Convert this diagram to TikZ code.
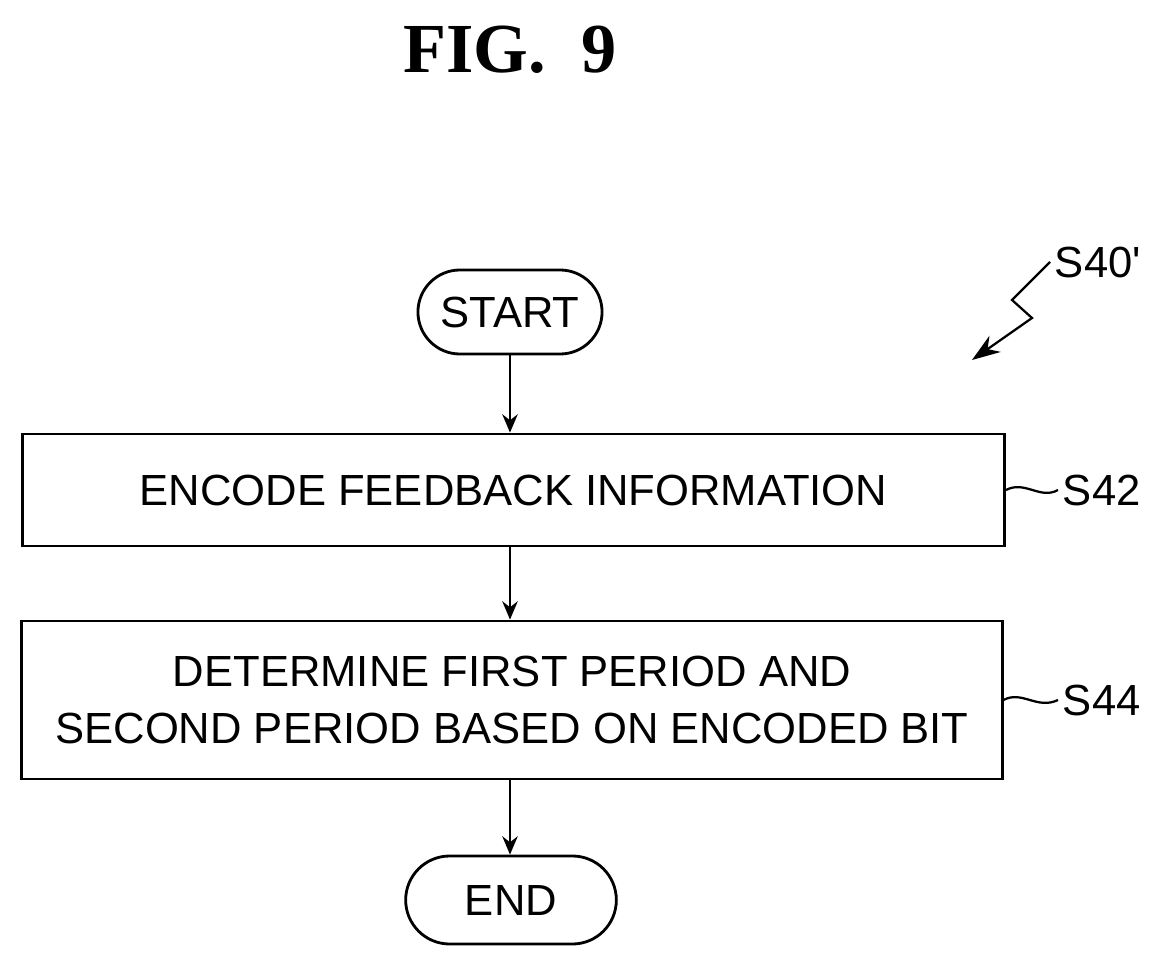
\documentclass[tikz,border=0pt]{standalone}
\usepackage{fontspec}
\setmainfont{Liberation Sans}
\newfontfamily\titlefont{Liberation Serif}
\usetikzlibrary{shapes.misc,arrows.meta}

\tikzset{
  procbox/.style={draw, line width=2pt, font=\fontsize{31}{40}\selectfont, align=center},
  term/.style={draw, line width=2pt, rounded rectangle, font=\fontsize{31}{40}\selectfont},
  flow/.style={-{Stealth[length=13pt,width=11pt]}, line width=1.6pt},
  tag/.style={font=\fontsize{31}{40}\selectfont, anchor=west},
}

\begin{document}
\begin{tikzpicture}[x=0.025cm, y=-0.025cm]
    \useasboundingbox (0,0) rectangle (1169,970);

    \node[font=\titlefont\bfseries\fontsize{50}{60}\selectfont] (title) at (510,50) {FIG.~~9};

    % flow steps
    \node[term, minimum width=4.4cm, minimum height=2.1cm, inner xsep=14pt] (start) at (510,312) {START};
    \node[procbox, minimum width=24.55cm, minimum height=2.8cm] (s42) at (513.5,490) {ENCODE FEEDBACK INFORMATION};
    \node[procbox, minimum width=24.5cm, minimum height=3.95cm] (s44) at (512,700)
        {DETERMINE FIRST PERIOD AND\\SECOND PERIOD BASED ON ENCODED BIT};
    \node[term, minimum width=5.5cm, minimum height=2.2cm] (end) at (511,900) {END};

    \draw[flow] (start.south) -- (start.south |- s42.north);
    \draw[flow] (start.south |- s42.south) -- (start.south |- s44.north);
    \draw[flow] (start.south |- s44.south) -- (start.south |- end.north);

    % reference labels
    \node[tag] (l42) at (1058,490) {S42};
    \node[tag] (l44) at (1058,700) {S44};
    \node[tag] (l40) at (1050,262) {S40\textquotesingle};
    \draw[line width=1.6pt] (s42.east) .. controls (1025,480) and (1040,500) .. (l42.west);
    \draw[line width=1.6pt] (s44.east) .. controls (1022,690) and (1037,710) .. (l44.west);
    \coordinate (tip) at (972,360);
    \draw[line width=1.6pt, -{Stealth[length=20pt,width=14pt]}]
        (l40.west) -- (1012,300) -- (1032,318) -- (tip);
\end{tikzpicture}
\end{document}
